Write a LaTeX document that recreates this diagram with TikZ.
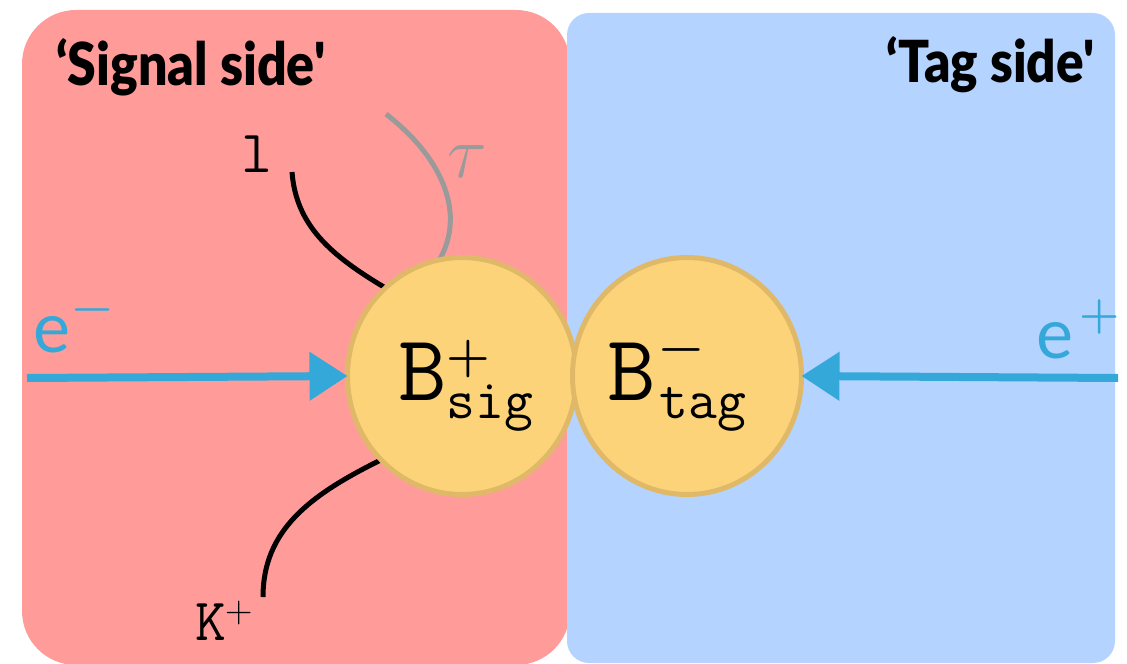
\documentclass[tikz,border=0pt]{standalone}
\usepackage{fix-cm}
\usepackage{fontspec}
\usetikzlibrary{arrows.meta,shapes.geometric}
\newfontfamily\heavyfont{Lato Black}
\newfontfamily\latofont{Lato}
\definecolor{sigred}{HTML}{FF9C9A}
\definecolor{tagblue}{HTML}{B5D3FF}
\definecolor{bfill}{HTML}{FDD37A}
\definecolor{bedge}{HTML}{DFB968}
\definecolor{beamblue}{HTML}{35A8DA}
\definecolor{taugrey}{HTML}{9A9A9A}
\pgfdeclarelayer{back}
\pgfsetlayers{back,main}
\tikzset{
  sidebox/.style={rounded corners=#1},
  bcirc/.style={ellipse, fill=bfill, draw=bedge, line width=2.5pt, minimum width=114.5pt, minimum height=118.5pt, inner sep=0pt, outer sep=0pt},
  beam/.style={draw=beamblue, line width=4pt, -{Triangle[length=19pt,width=23.5pt]}},
  track/.style={line width=2.5pt, line cap=butt},
  lbl/.style={inner sep=0pt, outer sep=0pt},
}
\newcommand{\suppm}[2]{\raisebox{#1}{\rlap{\rmfamily\bfseries\fontsize{25}{25}\selectfont #2}}}
\begin{document}
\begin{tikzpicture}[x=0.5pt,y=-0.5pt]
\useasboundingbox (0,0) rectangle (1127,663);
% circles
\node[bcirc] (bsig) at (462,376) {};
\node[bcirc] (btag) at (687,376) {};
% free ends
\coordinate (lend) at (292,172);
\coordinate (tauend) at (386,114);
\coordinate (kend) at (263,597);
\coordinate (ein) at (27,378);
\coordinate (pin) at (1118,378);
\begin{pgfonlayer}{back}
  \fill[sigred, sidebox=27pt] (22,10) rectangle (570,665);
  \fill[tagblue, sidebox=11pt] (567,13) rectangle (1115,663);
  \draw[track, black] (bsig.131) .. controls (330,255) and (296,225) .. (lend);
  \draw[track, taugrey] (bsig.101) .. controls (465,215) and (445,160) .. (tauend);
  \draw[track, black] (bsig.226) .. controls (310,495) and (263,530) .. (kend);
\end{pgfonlayer}
% titles
\node[lbl, anchor=base west] (sigtitle) at (56,86) {\resizebox{135pt}{23.5pt}{\heavyfont ‘Signal side\textquotesingle}};
\node[lbl, anchor=base east] (tagtitle) at (1095,83) {\resizebox{104pt}{23pt}{\heavyfont ‘Tag side\textquotesingle}};
% beams
\draw[beam] (ein) -- (bsig.west);
\draw[beam] (pin) -- (btag.east);
% B labels
\node[lbl, anchor=base west] (bsiglabel) at (398,400) {\fontsize{47}{47}\selectfont\ttfamily B\suppm{14.25pt}{+}\raisebox{-9pt}{\fontsize{28}{28}\selectfont sig}};
\node[lbl, anchor=base west] (btaglabel) at (607,400) {\fontsize{47}{47}\selectfont\ttfamily B\hspace{2pt}\suppm{18.75pt}{−}\raisebox{-9pt}{\fontsize{28}{28}\selectfont tag}};
% particle labels
\node[lbl, anchor=base west] (llabel) at (241,173) {\fontsize{30}{30}\selectfont\ttfamily l};
\node[lbl, text=taugrey] (taulabel) at (467,162) {\fontsize{37}{37}\selectfont$\tau$};
\node[lbl, anchor=base west] (klabel) at (195,640) {\fontsize{30}{30}\selectfont\ttfamily K\raisebox{9pt}{\rmfamily\fontsize{19}{19}\selectfont +}};
\node[lbl, anchor=base west, text=beamblue] (emlabel) at (33,352) {\fontsize{35}{35}\selectfont\latofont e\hspace{1.5pt}\raisebox{15.25pt}{\rmfamily\bfseries\fontsize{23}{23}\selectfont −}};
\node[lbl, anchor=base east, text=beamblue] (eplabel) at (1120,358) {\fontsize{35}{35}\selectfont\latofont e\hspace{3pt}\raisebox{14.75pt}{\rmfamily\bfseries\fontsize{23}{23}\selectfont +}};
\end{tikzpicture}
\end{document}
